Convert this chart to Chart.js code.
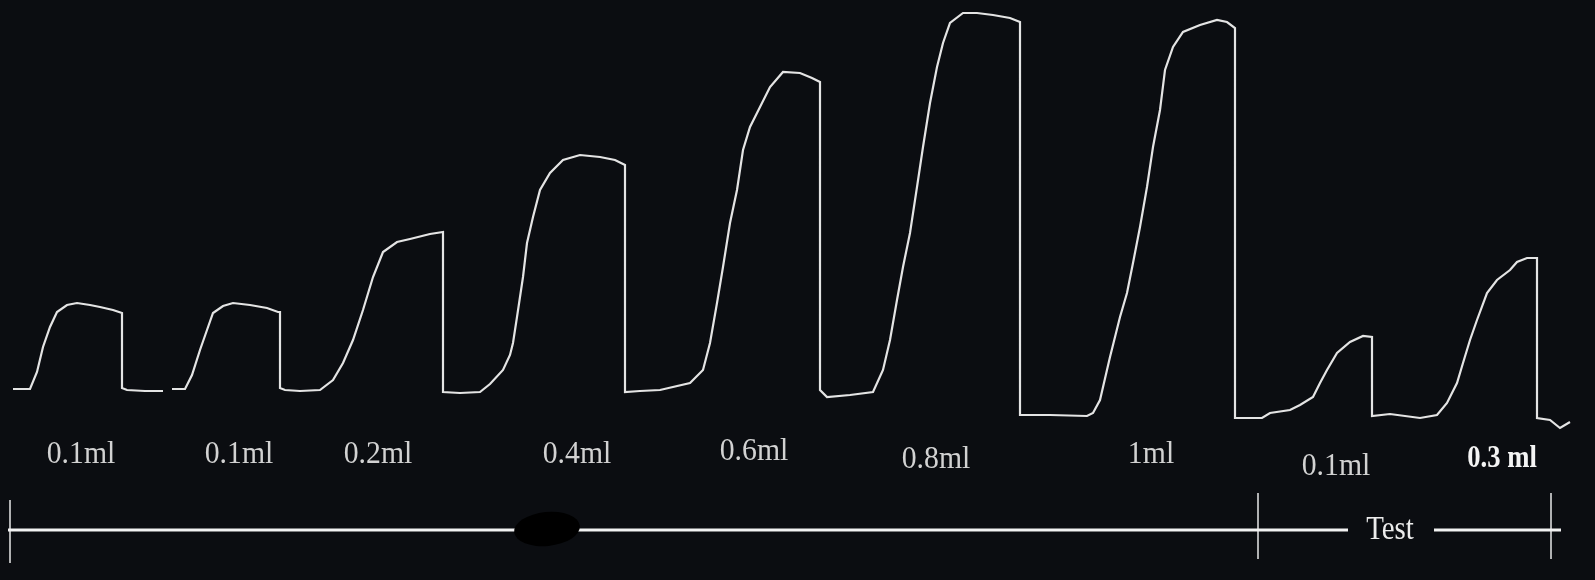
<!DOCTYPE html>
<html>
<head>
<meta charset="utf-8">
<script src="https://cdn.jsdelivr.net/npm/chart.js@4.4.0/dist/chart.umd.min.js"></script>
<style>
  html, body { margin: 0; padding: 0; background: #0b0d11; }
  #wrap { width: 1595px; height: 580px; position: relative; }
</style>
</head>
<body>
<div id="wrap"><canvas id="myChart"></canvas></div>
<script>
// kymograph trace, time along x, pen height along y (null = break in the trace)
const traceTime = [
  13, 30, 37, 43, 50, 57, 67, 77, 90, 100, 113, 122, 122, 127, 145, 163, 167,
  172, 185, 192, 200, 207, 213, 223, 233, 250, 267, 278, 280, 280, 285, 300, 320,
  333, 343, 353, 363, 373, 383, 397, 410, 430, 443, 443,
  460, 480, 490, 503, 510, 513, 517, 523, 527, 533, 540, 550, 563, 580, 600, 615, 625, 625,
  640, 660, 690, 703, 710, 717, 723, 730, 737, 743, 750, 757, 770, 783, 800, 812, 820, 820,
  827, 850, 873, 883, 890, 897, 903, 910, 917, 923, 930, 937, 943, 950, 963, 977, 993, 1010, 1020, 1020,
  1050, 1087, 1093, 1100, 1110, 1120, 1127, 1133, 1140, 1147, 1153, 1160, 1165, 1173, 1183, 1200, 1217, 1227, 1235, 1235,
  1262, 1270, 1290, 1300, 1313, 1320, 1327, 1337, 1350, 1363, 1372, 1372,
  1390, 1420, 1437, 1447, 1457, 1463, 1470, 1477, 1487, 1497, 1510, 1517, 1527, 1537, 1537, 1550, 1560, 1570
];
const traceLevel = [
  191, 191, 208, 233, 253, 268, 275, 277, 275, 273, 270, 267, 192, 190, 189, 189, null,
  191, 191, 205, 230, 250, 267, 274, 277, 275, 272, 268, 268, 192, 190, 189, 190,
  200, 217, 240, 270, 303, 328, 338, 341, 346, 348, 188,
  187, 188, 196, 210, 225, 237, 263, 303, 337, 363, 390, 407, 420, 425, 423, 420, 415, 188,
  189, 190, 197, 210, 237, 277, 313, 357, 390, 430, 453, 467, 493, 508, 507, 502, 498, 190,
  183, 185, 188, 210, 240, 280, 313, 347, 393, 433, 477, 513, 537, 557, 567, 567, 565, 562, 558, 165,
  165, 164, 167, 180, 223, 263, 287, 317, 353, 393, 433, 470, 510, 533, 548, 555, 560, 558, 552, 162,
  162, 167, 170, 175, 183, 197, 210, 227, 238, 244, 243, 164,
  166, 162, 165, 177, 197, 217, 240, 260, 287, 300, 310, 318, 322, 322, 162, 160, 152, 158
];

// doses written under each contraction
const doseLabels = ['0.1ml', '0.1ml', '0.2ml', '0.4ml', '0.6ml', '0.8ml', '1ml', '0.1ml', '0.3 ml'];
const doseTime = [81, 239, 378, 577, 754, 936, 1151, 1336, 1502];
const doseLevel = [125, 125, 125, 125, 128, 120, 125, 113, 121];

// time marker line along the bottom
const markerTime = [8, 1348, 1348, 1434, 1561];
const markerLevel = [50, 50, null, 50, 50];
const tickTime = [10, 10, 10, 1258, 1258, 1258, 1551, 1551];
const tickLevel = [80, 17, null, 87, 21, null, 87, 21];
const testLabel = 'Test';
const testTime = 1390;
const testLevel = 50;
const smudgeTime = 547;
const smudgeLevel = 51;

const pts = (xs, ys) => xs.map((x, i) => ({ x: x, y: ys[i] }));

// narrow serif text, like the typed labels on the record
const drawNarrow = (c, text, x, y, font, squeeze) => {
  c.save();
  c.translate(x, y);
  c.scale(squeeze, 1);
  c.font = font;
  c.fillText(text, 0, 0);
  c.restore();
};

const annotate = {
  id: 'annotate',
  beforeDraw(chart) {
    const c = chart.ctx;
    c.save();
    c.fillStyle = '#0b0d11';
    c.fillRect(0, 0, chart.width, chart.height);
    c.restore();
  },
  afterDatasetsDraw(chart) {
    const c = chart.ctx;
    const xs = chart.scales.x, ys = chart.scales.y;
    c.save();
    // black ink smudge on the marker line
    c.fillStyle = '#000000';
    c.beginPath();
    c.ellipse(xs.getPixelForValue(smudgeTime), ys.getPixelForValue(smudgeLevel), 33, 17, -0.1, 0, Math.PI * 2);
    c.fill();

    c.textAlign = 'center';
    c.textBaseline = 'middle';
    doseLabels.forEach((t, i) => {
      const last = i === doseLabels.length - 1;
      c.fillStyle = last ? '#f4f4f4' : '#d2d2d2';
      drawNarrow(c, t, xs.getPixelForValue(doseTime[i]), ys.getPixelForValue(doseLevel[i]),
        (last ? 'bold 31px' : '32px') + ' "Liberation Serif", serif', last ? 0.86 : 0.93);
    });
    c.fillStyle = '#ececec';
    drawNarrow(c, testLabel, xs.getPixelForValue(testTime), ys.getPixelForValue(testLevel),
      '34px "Liberation Serif", serif', 0.85);
    c.restore();
  }
};

const ctx = document.getElementById('myChart').getContext('2d');
// eslint-disable-next-line no-unused-vars
const chart = new Chart(ctx, {
  type: 'line',
  data: {
    datasets: [{
      label: 'trace',
      data: pts(traceTime, traceLevel),
      borderColor: '#e4e4e4',
      borderWidth: 2.2,
      pointRadius: 0,
      tension: 0,
      spanGaps: false
    }, {
      label: 'marker',
      data: pts(markerTime, markerLevel),
      borderColor: '#f2f2f2',
      borderWidth: 3,
      pointRadius: 0,
      spanGaps: false
    }, {
      label: 'ticks',
      data: pts(tickTime, tickLevel),
      borderColor: '#e8e8e8',
      borderWidth: 1.5,
      pointRadius: 0,
      spanGaps: false
    }]
  },
  options: {
    responsive: true,
    maintainAspectRatio: false,
    animation: false,
    layout: { padding: 0 },
    plugins: { legend: { display: false }, tooltip: { enabled: false } },
    scales: {
      x: { type: 'linear', min: 0, max: 1595, display: false },
      y: { type: 'linear', min: 0, max: 580, display: false }
    }
  },
  plugins: [annotate]
});
</script>
</body>
</html>
